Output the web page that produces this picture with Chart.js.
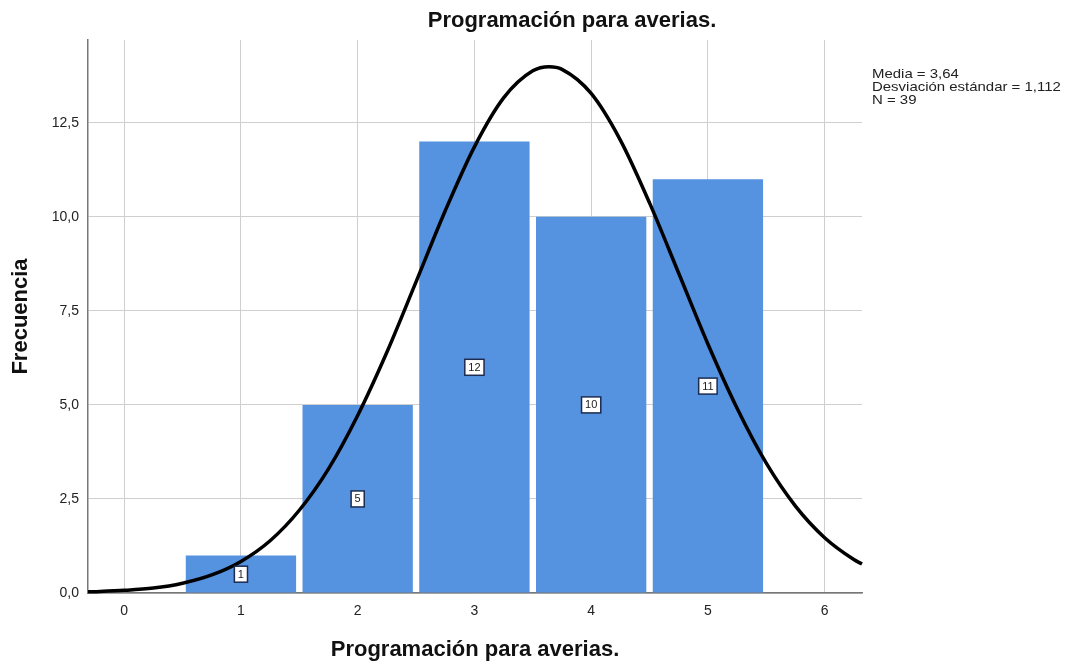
<!DOCTYPE html>
<html><head><meta charset="utf-8">
<script src="https://cdn.jsdelivr.net/npm/chart.js@4.4.0/dist/chart.umd.min.js"></script>
<style>html,body{margin:0;padding:0;background:#fff}#wrap{width:1066px;height:665px;position:relative}</style>
</head><body><div id="wrap"><canvas id="c" width="1066" height="665"></canvas></div>
<script>
const binCenters = [1, 2, 3, 4, 5];
const frequencies = [1, 5, 12, 10, 11];
const curveX = [-0.31, 0, 0.25, 0.5, 0.75, 1, 1.25, 1.5, 1.75, 2, 2.25, 2.5, 2.75, 3, 3.25, 3.5, 3.64, 3.75, 4, 4.25, 4.5, 4.75, 5, 5.25, 5.5, 5.75, 6, 6.25, 6.32];
const curveY = [0.03, 0.07, 0.13, 0.26, 0.48, 0.84, 1.39, 2.20, 3.30, 4.72, 6.40, 8.27, 10.16, 11.86, 13.16, 13.88, 13.99, 13.92, 13.28, 12.04, 10.37, 8.50, 6.62, 4.91, 3.45, 2.31, 1.47, 0.89, 0.77];
const xTicks = [0, 1, 2, 3, 4, 5, 6];
const yTicks = [0, 2.5, 5, 7.5, 10, 12.5];
const chartTitle = 'Programación para averias.';
const xTitle = 'Programación para averias.';
const yTitle = 'Frecuencia';
const statsLines = ['Media = 3,64', 'Desviación estándar = 1,112', 'N = 39'];

const FONT = '"Liberation Sans", Arial, sans-serif';

const extras = {
  id: 'extras',
  afterDatasetsDraw(chart) {
    const ctx = chart.ctx;
    const meta = chart.getDatasetMeta(1);
    const ys = chart.scales.y;
    ctx.save();
    ctx.font = '11px ' + FONT;
    ctx.textAlign = 'center';
    ctx.textBaseline = 'middle';
    meta.data.forEach((bar, i) => {
      const v = frequencies[i];
      const cx = bar.x;
      const cy = ys.getPixelForValue(v / 2);
      const txt = String(v);
      const w = ctx.measureText(txt).width + 7;
      const h = 16;
      ctx.fillStyle = '#ffffff';
      ctx.fillRect(cx - w / 2, cy - h / 2, w, h);
      ctx.strokeStyle = '#1c2b4f';
      ctx.lineWidth = 1.5;
      ctx.strokeRect(cx - w / 2, cy - h / 2, w, h);
      ctx.fillStyle = '#222';
      ctx.fillText(txt, cx, cy + 0.5);
    });
    ctx.restore();
  },
  afterDraw(chart) {
    const ctx = chart.ctx;
    ctx.save();
    ctx.fillStyle = '#111';
    ctx.font = 'bold 22px ' + FONT;
    ctx.textAlign = 'center';
    ctx.textBaseline = 'middle';
    ctx.fillText(chartTitle, 572, 21);
    ctx.restore();
    ctx.save();
    ctx.font = '13px ' + FONT;
    ctx.textAlign = 'left';
    ctx.textBaseline = 'middle';
    ctx.fillStyle = '#222';
    ctx.translate(872, 0);
    ctx.scale(1.15, 1);
    statsLines.forEach((t, i) => ctx.fillText(t, 0, 74 + i * 13));
    ctx.restore();
  }
};

new Chart(document.getElementById('c'), {
  type: 'bar',
  data: {
    datasets: [
      {
        type: 'line',
        order: 0,
        data: curveX.map((x, i) => ({ x: x, y: curveY[i] })),
        borderColor: '#000000',
        borderWidth: 3.5,
        pointRadius: 0,
        cubicInterpolationMode: 'monotone',
        fill: false,
        clip: false
      },
      {
        type: 'bar',
        order: 1,
        data: binCenters.map((x, i) => ({ x: x, y: frequencies[i] })),
        backgroundColor: '#5592e0',
        borderWidth: 0,
        categoryPercentage: 1,
        barPercentage: 0.945
      }
    ]
  },
  options: {
    responsive: false,
    animation: false,
    layout: { padding: { left: 0, right: 204, top: 40, bottom: 0 } },
    plugins: { legend: { display: false }, tooltip: { enabled: false } },
    scales: {
      x: {
        type: 'linear',
        min: -0.31,
        max: 6.32,
        offset: false,
        afterFit: s => { s.height = 72; },
        afterBuildTicks: s => { s.ticks = xTicks.map(v => ({ value: v })); },
        ticks: { padding: 10, color: '#222', font: { family: FONT, size: 14 }, callback: v => String(v), maxRotation: 0 },
        grid: { color: '#cfcfcf', lineWidth: 1, drawTicks: false, offset: false },
        border: { display: true, color: '#777', width: 1.5 },
        title: { display: true, text: xTitle, color: '#111', font: { family: FONT, size: 22, weight: 'bold' }, padding: { top: 0, bottom: 2 } }
      },
      y: {
        min: 0,
        max: 14.7,
        afterFit: s => { s.width = 88; },
        afterBuildTicks: s => { s.ticks = yTicks.map(v => ({ value: v })); },
        ticks: { padding: 9, color: '#222', font: { family: FONT, size: 14 }, callback: v => v.toFixed(1).replace('.', ',') },
        grid: { color: '#cfcfcf', lineWidth: 1, drawTicks: false },
        border: { display: true, color: '#777', width: 1.5 },
        title: { display: true, text: yTitle, color: '#111', font: { family: FONT, size: 22, weight: 'bold' }, padding: { top: 8, bottom: 0 } }
      }
    }
  },
  plugins: [extras]
});
</script></body></html>
